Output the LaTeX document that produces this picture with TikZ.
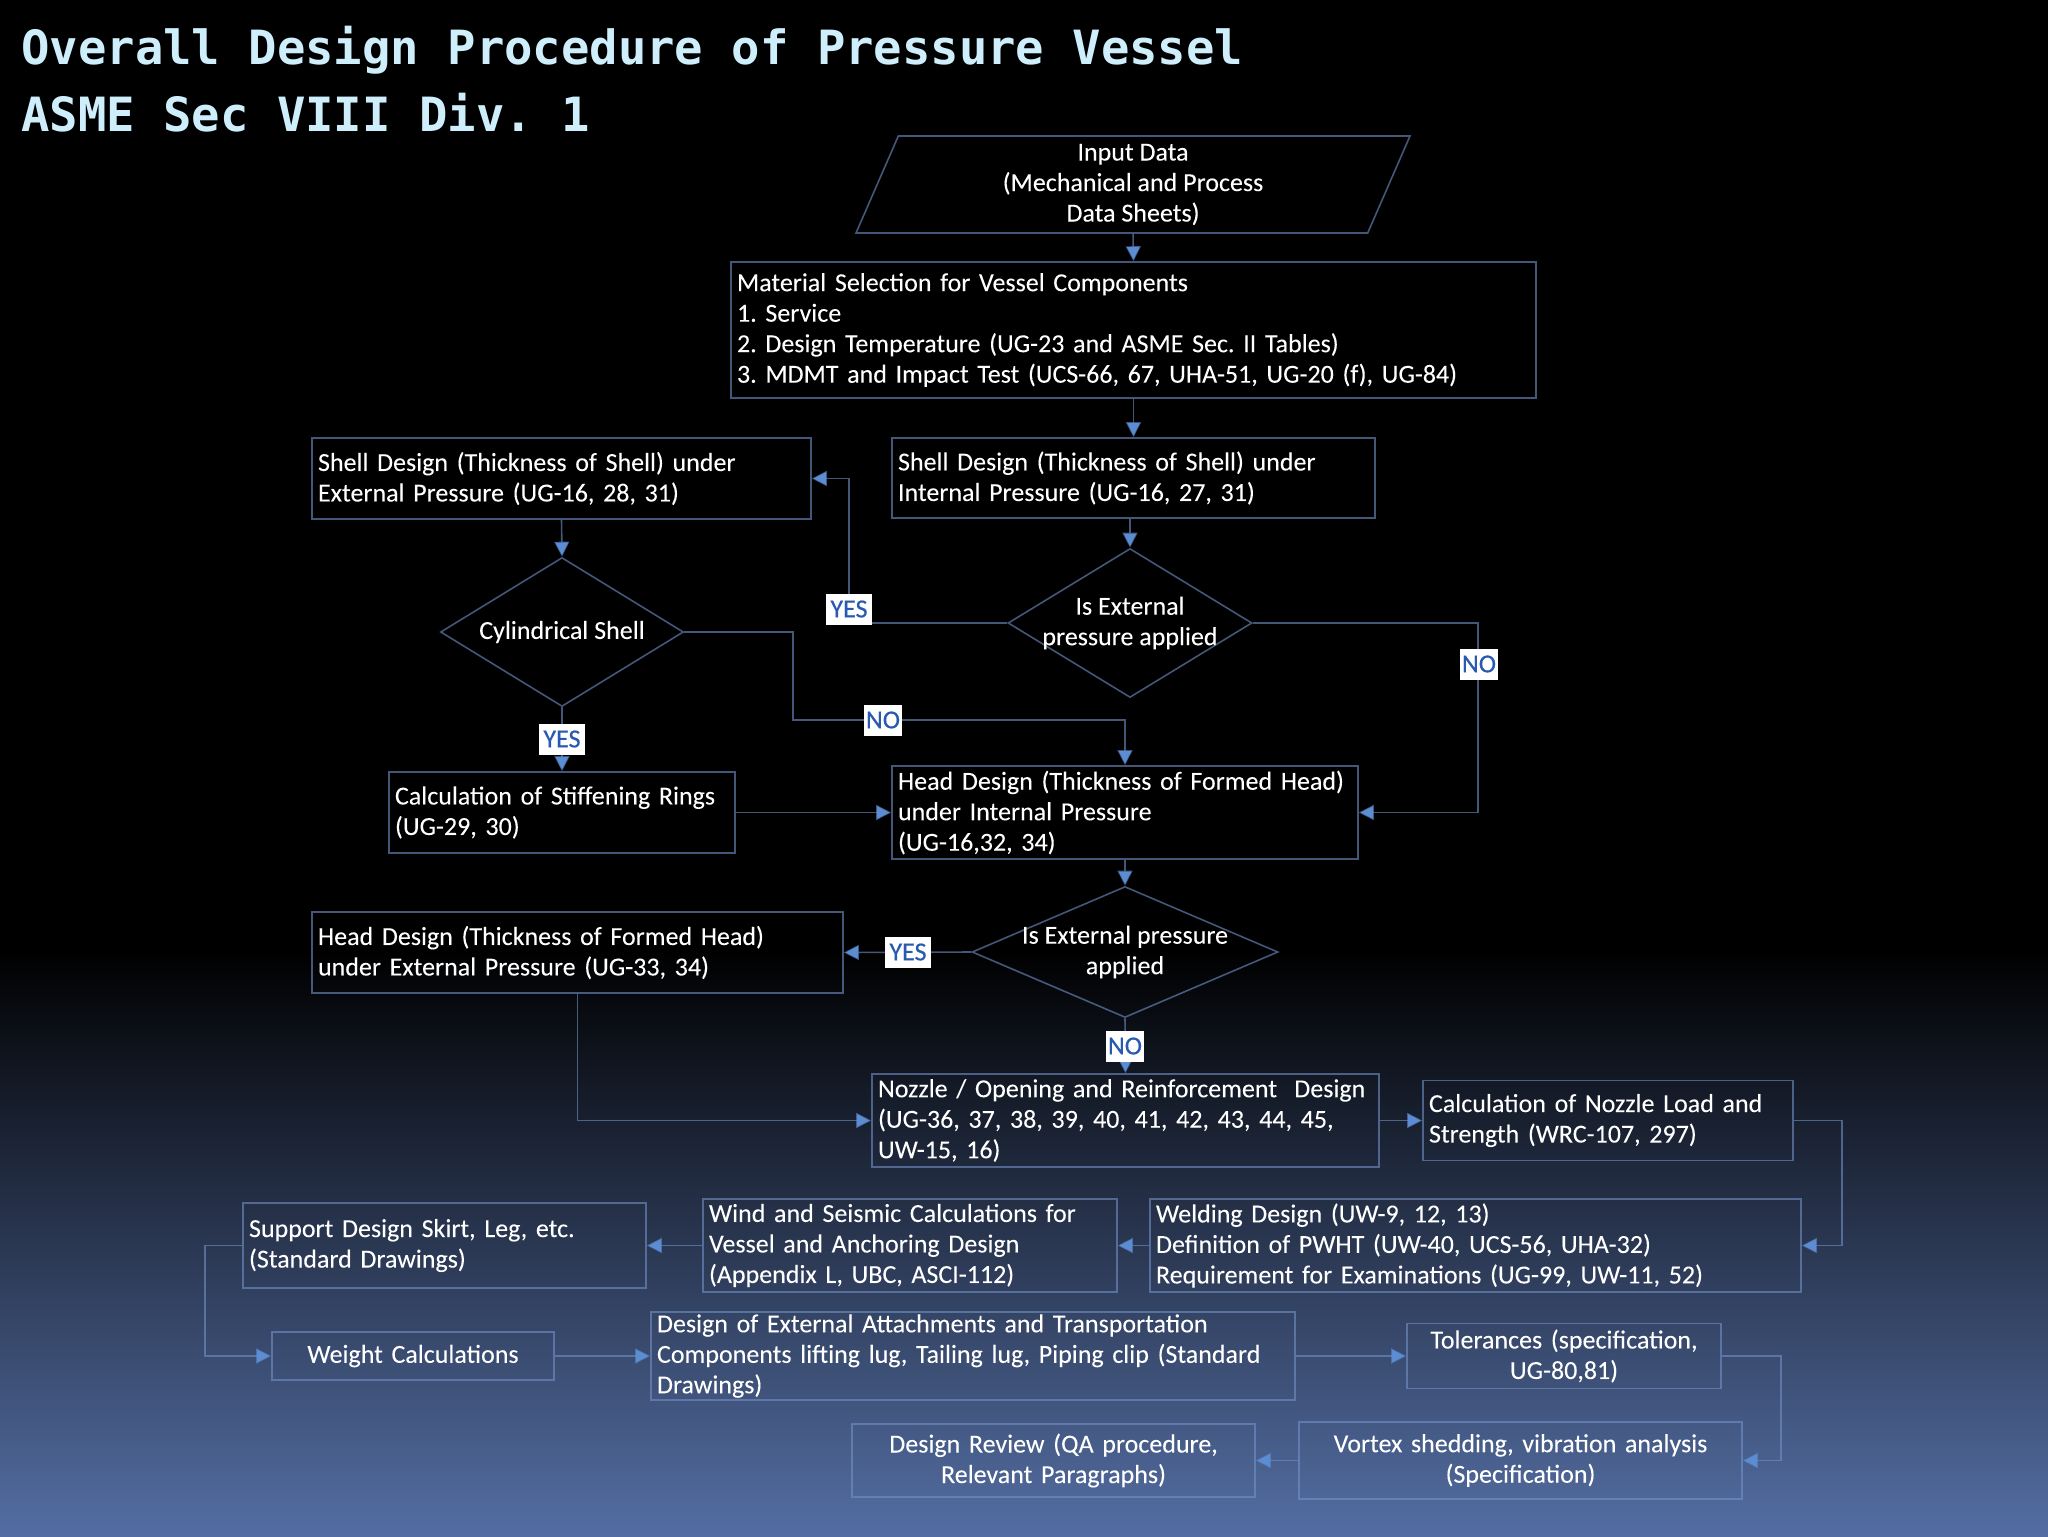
\documentclass[tikz,border=0pt]{standalone}
\usepackage{fontspec}
\setmainfont{Carlito}[FakeBold=0.4]
\newfontfamily\titlefont{DejaVu Sans Mono}
\usetikzlibrary{shapes.geometric, arrows.meta}
\frenchspacing

\definecolor{boxline}{RGB}{115,145,200}
\definecolor{lineblue}{RGB}{115,145,200}
\definecolor{arrowblue}{RGB}{92,140,210}
\definecolor{labelblue}{RGB}{40,90,175}
\definecolor{titlecyan}{RGB}{205,238,250}
\definecolor{bgbottom}{RGB}{84,110,163}

\begin{document}
\begin{tikzpicture}[x=0.5pt, y=-0.5pt,
  every node/.style={font=\fontsize{13}{15.25}\selectfont, text=white},
  pbox/.style={draw=boxline, draw opacity=0.6, line width=0.8pt, inner xsep=3pt, inner ysep=0pt, align=left},
  cbox/.style={pbox, align=center},
  decide/.style={diamond, draw=boxline, draw opacity=0.6, line width=0.8pt, inner sep=-5pt, align=center},
  answer/.style={fill=white, text=labelblue, inner xsep=1pt, inner ysep=0pt, minimum height=15.5pt},
  conn/.style={draw=lineblue, draw opacity=0.6, line width=0.8pt, -{Triangle[length=7.5pt, width=7.5pt, color=arrowblue, fill=arrowblue]}}]

  \path[use as bounding box] (0,0) rectangle (2048,1536);
  \fill[black] (0,0) rectangle (2048,1536);
  \shade[top color=black, bottom color=bgbottom] (0,950) rectangle (2048,1536);

  \node[anchor=base west, inner sep=0pt, text=titlecyan, font={\titlefont\bfseries\fontsize{23.6}{28}\selectfont}] (title) at (21,65) {Overall Design Procedure of Pressure Vessel};
  \node[anchor=base west, inner sep=0pt, text=titlecyan, font={\titlefont\bfseries\fontsize{23.6}{28}\selectfont}] (subtitle) at (21,132) {ASME Sec VIII Div. 1};

  \node[trapezium, trapezium left angle=62.5, trapezium right angle=117.5, trapezium stretches body, draw=boxline, draw opacity=0.6, line width=0.8pt, minimum width=277pt, minimum height=48.5pt, inner sep=0pt, align=center] (input) at (1133,184.5) {Input Data\\(Mechanical and Process\\Data Sheets)};
  \node[pbox, text width=396.5pt, minimum height=68pt] (material) at (1133.5,330) {Material Selection for Vessel Components\\1. Service\\2. Design Temperature (UG-23 and ASME Sec. II Tables)\\3. MDMT and Impact Test (UCS-66, 67, UHA-51, UG-20 (f), UG-84)};
  \node[pbox, text width=243.5pt, minimum height=40.5pt] (shellext) at (561.5,478.5) {Shell Design (Thickness of Shell) under\\External Pressure (UG-16, 28, 31)};
  \node[pbox, text width=235.5pt, minimum height=40pt] (shellint) at (1133.5,478) {Shell Design (Thickness of Shell) under\\Internal Pressure (UG-16, 27, 31)};
  \node[decide, minimum width=121.5pt, minimum height=74.5pt, aspect=1.63] (cyl) at (562,632) {Cylindrical Shell};
  \node[decide, minimum width=122pt, minimum height=74.5pt, aspect=1.64] (extq) at (1130,623) {Is External\\pressure applied};
  \node[pbox, text width=167pt, minimum height=40.5pt] (rings) at (562,812.5) {Calculation of Stiffening Rings\\(UG-29, 30)};
  \node[pbox, text width=227pt, minimum height=46.5pt] (headint) at (1125,812.5) {Head Design (Thickness of Formed Head)\\under Internal Pressure\\(UG-16,32, 34)};
  \node[decide, minimum width=153pt, minimum height=65.5pt, aspect=2.34] (headq) at (1125,952) {Is External pressure\\applied};
  \node[pbox, text width=259.5pt, minimum height=40.5pt] (headext) at (577.5,952.5) {Head Design (Thickness of Formed Head)\\under External Pressure (UG-33, 34)};
  \node[pbox, text width=247.5pt, minimum height=46.5pt] (nozzle) at (1125.5,1120.5) {Nozzle / Opening and Reinforcement\ \ Design\\(UG-36, 37, 38, 39, 40, 41, 42, 43, 44, 45,\\UW-15, 16)};
  \node[pbox, text width=179pt, minimum height=40pt] (nozload) at (1608,1120.5) {Calculation of Nozzle Load and\\Strength (WRC-107, 297)};
  \node[pbox, text width=195.5pt, minimum height=42.5pt] (support) at (444.5,1245.5) {Support Design Skirt, Leg, etc.\\(Standard Drawings)};
  \node[pbox, text width=201pt, minimum height=46.5pt] (wind) at (910,1245.5) {Wind and Seismic Calculations for\\Vessel and Anchoring Design\\(Appendix L, UBC, ASCI-112)};
  \node[pbox, text width=319.5pt, minimum height=46.5pt] (welding) at (1475.5,1245.5) {Welding Design (UW-9, 12, 13)\\Definition of PWHT (UW-40, UCS-56, UHA-32)\\Requirement for Examinations (UG-99, UW-11, 52)};
  \node[cbox, text width=135pt, minimum height=24pt] (weight) at (413,1356) {Weight Calculations};
  \node[pbox, text width=316pt, minimum height=44pt] (attach) at (973,1356) {Design of External Attachments and Transportation\\Components lifting lug, Tailing lug, Piping clip (Standard\\Drawings)};
  \node[cbox, text width=151pt, minimum height=32.5pt] (tol) at (1564,1356) {Tolerances (specification,\\UG-80,81)};
  \node[cbox, text width=215.5pt, minimum height=38.5pt] (vortex) at (1520.5,1460.5) {Vortex shedding, vibration analysis\\(Specification)};
  \node[cbox, text width=195.5pt, minimum height=36.5pt] (review) at (1053.5,1460.5) {Design Review (QA procedure,\\Relevant Paragraphs)};

  \coordinate (yesturn) at (849,478.5);
  \coordinate (noturn) at (1478,812.5);
  \coordinate (cylturn) at (793,720);

  \draw[conn] (input.south) -- (material.north);
  \draw[conn] (material.south) -- (shellint.north);
  \draw[conn] (shellint.south -| extq.north) -- (extq.north);
  \draw[conn] (shellext.south) -- (cyl.north);
  \draw[conn] (extq.west) -| (yesturn) -- (shellext.east);
  \draw[conn] (extq.east) -| (noturn) -- (headint.east);
  \draw[conn] (cyl.east) -| (cylturn) -| (headint.north);
  \draw[conn] (cyl.south) -- (rings.north);
  \draw[conn] (rings.east) -- (headint.west);
  \draw[conn] (headint.south) -- (headq.north);
  \draw[conn] (headq.west) -- (headext.east);
  \draw[conn] (headq.south) -- (nozzle.north);
  \draw[conn] (headext.south) |- (nozzle.west);
  \draw[conn] (nozzle.east) -- (nozload.west);
  \draw[conn] (nozload.east) -- ++(48,0) |- (welding.east);
  \draw[conn] (welding.west) -- (wind.east);
  \draw[conn] (wind.west) -- (support.east);
  \draw[conn] (support.west) -- ++(-37,0) |- (weight.west);
  \draw[conn] (weight.east) -- (attach.west);
  \draw[conn] (attach.east) -- (tol.west);
  \draw[conn] (tol.east) -- ++(59,0) |- (vortex.east);
  \draw[conn] (vortex.west) -- (review.east);

  \node[answer, minimum width=23pt] (yes1) at (849,609) {YES};
  \node[answer, minimum width=18.5pt] (no1) at (1479,664) {NO};
  \node[answer, minimum width=18.5pt] (no2) at (883,720) {NO};
  \node[answer, minimum width=23pt] (yes2) at (562,739) {YES};
  \node[answer, minimum width=23pt] (yes3) at (908,952) {YES};
  \node[answer, minimum width=18.5pt] (no3) at (1125,1046) {NO};
\end{tikzpicture}
\end{document}
